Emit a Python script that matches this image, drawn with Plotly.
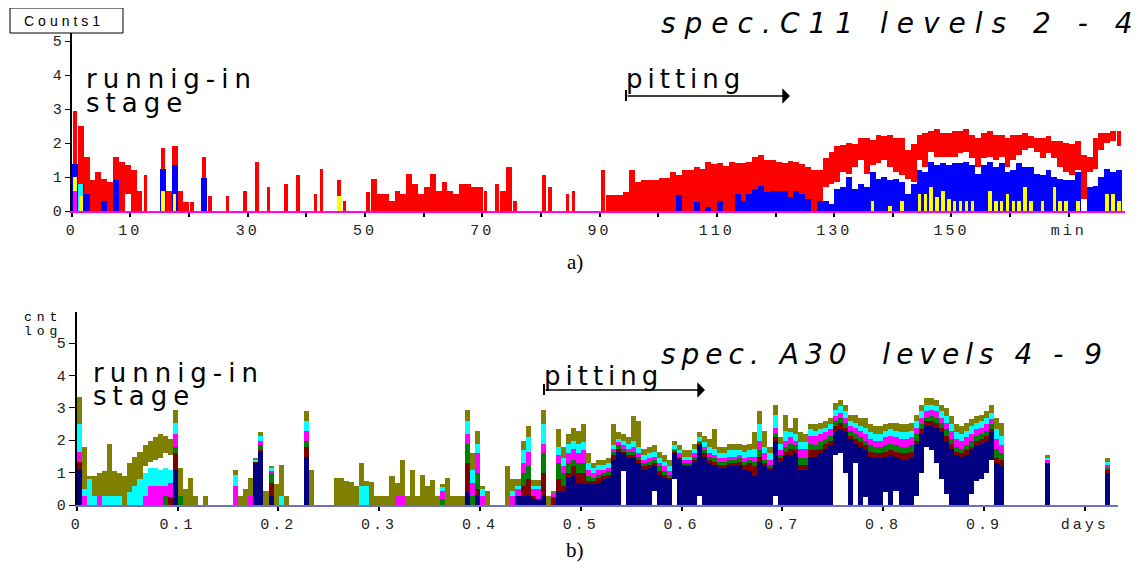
import plotly.graph_objects as go

W, H = 1146, 568
OFF = 8  # the page body adds an 8px margin; reference pixel positions are shifted by it

# ---------------- Panel a) : spec.C11, levels 2-4, 1-minute bins ----------------
red_top = [
    2.95, 2.5, 1.6, 0.9, 1.15, 0.95, 0.85, 1.6, 1.45, 1.35,
    1.2, 0.6, 1.05, 0, 0, 1.85, 0.6, 1.9, 0.6, 0.27,
    0.27, 0, 1.6, 0.45, 0, 0, 0.45, 0, 0, 0.6,
    0, 1.43, 0, 0.7, 0, 0, 0.8, 0, 1.05, 0,
    0, 0.5, 1.25, 0, 0, 0.9, 0.3, 0, 0, 0,
    0.55, 0.95, 0.5, 0.5, 0.3, 0.6, 0.5, 1.1, 0.8, 0.5,
    0.7, 1.1, 0.6, 0.85, 0.6, 0.5, 0.8, 0.8, 0.7, 0.7,
    0.6, 0, 0.8, 0.6, 1.28, 0.3, 0, 0, 0, 0,
    1.05, 0.7, 0, 0, 0.5, 0.6, 0, 0, 0, 0,
    1.22, 0.48, 0.48, 0.48, 0.55, 1.2, 0.85, 0.9, 0.9, 0.92,
    0.97, 0.97, 1.15, 1.05, 1.2, 1.2, 1.3, 1.25, 1.45, 1.38,
    1.4, 1.33, 1.45, 1.4, 1.42, 1.45, 1.6, 1.65, 1.5, 1.5,
    1.45, 1.42, 1.48, 1.45, 1.38, 1.3, 1.2, 1.22, 1.55, 1.73,
    1.9, 1.95, 2.0, 1.96, 2.15, 2.15, 2.1, 2.25, 2.2, 2.25,
    2.15, 2.15, 1.8, 1.96, 2.25, 2.3, 2.35, 2.4, 2.3, 2.3,
    2.35, 2.35, 2.4, 2.25, 2.15, 2.3, 2.35, 2.25, 2.25, 2.15,
    2.25, 2.25, 2.3, 2.2, 2.15, 2.15, 2.2, 2.05, 2.05, 2.0,
    1.96, 2.05, 1.65, 1.6, 2.15, 2.3, 2.3, 2.35, 2.35,
]
blue_top = [
    1.37, 0.8, 0.5, 0, 0, 0.3, 0, 0.9, 0, 0,
    0, 0, 0, 0, 0, 1.25, 0, 1.35, 0, 0,
    0, 0, 0.96, 0, 0, 0, 0, 0, 0, 0,
    0, 0, 0, 0, 0, 0, 0, 0, 0, 0,
    0, 0, 0, 0, 0, 0, 0, 0, 0, 0,
    0, 0, 0, 0, 0, 0, 0, 0, 0, 0,
    0, 0, 0, 0, 0, 0, 0, 0, 0, 0,
    0, 0, 0, 0, 0, 0, 0, 0, 0, 0,
    0, 0, 0, 0, 0, 0, 0, 0, 0, 0,
    0, 0, 0, 0, 0, 0, 0, 0, 0, 0,
    0, 0, 0, 0.48, 0, 0, 0.27, 0, 0.13, 0,
    0.3, 0, 0, 0.5, 0.3, 0.5, 0.65, 0.75, 0.55, 0.6,
    0.6, 0.6, 0.4, 0.6, 0.5, 0.35, 0, 0.3, 0.3, 0.2,
    0.65, 0.7, 1.0, 0.65, 0.8, 0.7, 1.15, 0.95, 1.0, 0.9,
    0.95, 0.85, 0.5, 0.8, 1.2, 1.15, 1.45, 1.35, 1.4, 1.35,
    1.4, 1.4, 1.45, 1.35, 1.1, 1.35, 1.45, 1.3, 1.4, 1.15,
    1.2, 1.4, 1.3, 1.3, 1.1, 1.05, 1.2, 1.0, 0.95, 0.9,
    0.9, 1.15, 0, 0.7, 0.75, 1.0, 1.25, 1.15, 1.2,
]
# lower edge of the red envelope (white gap below it), sparse
red_low_min = [9, 128, 129, 130, 131, 132, 133, 134, 135, 136, 137, 138, 139, 140,
               141, 142, 143, 144, 145, 146, 147, 148, 149, 150, 151, 152, 153, 154,
               155, 156, 157, 158, 159, 160, 161, 162, 163, 164, 165, 166, 167, 168,
               169, 170, 171, 172, 173, 174, 175, 176, 177, 178]
red_low_val = [0.5, 0.7, 0.8, 0.85, 1.15, 1.1, 1.3, 1.5, 1.1, 1.35, 1.4, 1.5, 1.3, 1.15,
               1.05, 0.95, 0.85, 1.5, 1.3, 1.75, 1.6, 1.6, 1.6, 1.6, 1.7, 1.75, 1.55, 1.3,
               1.55, 1.6, 1.5, 1.6, 1.3, 1.5, 1.65, 1.8, 1.85, 1.75, 1.55, 1.7, 1.55, 1.3,
               1.15, 1.05, 1.2, 0.35, 1.15, 1.25, 1.8, 2.0, 2.05, 1.9]
yellow_min = [0, 1, 15, 17, 45, 136, 139, 141, 144, 145, 146, 147, 148, 149, 150, 151,
              152, 153, 156, 157, 158, 159, 160, 161, 162, 163, 165, 167, 168, 169,
              171, 176, 177, 178]
yellow_val = [1.0, 0.45, 0.6, 0.5, 0.45, 0.3, 0.15, 0.3, 0.5, 0.5, 0.7, 0.4, 0.6, 0.35,
              0.3, 0.3, 0.3, 0.3, 0.6, 0.3, 0.3, 0.5, 0.3, 0.3, 0.7, 0.3, 0.3, 0.7,
              0.3, 0.3, 0.3, 0.5, 0.5, 0.3]
cyan_a_min = [1]
cyan_a_val = [0.8]
magenta_a_min = [0]
magenta_a_val = [0.6]

xa_tickvals = [0, 10, 20, 30, 40, 50, 60, 70, 80, 90, 100, 110, 120, 130, 140, 150, 160, 170]
xa_ticktext = ['0', '10', '', '30', '', '50', '', '70', '', '90', '', '110', '', '130', '',
               '150', '', 'min']

# ---------------- Panel b) : spec. A30, levels 4-9, 0.005-day bins ----------------
BIN_DAYS = 0.005
navy = [
    1.08, 0, 0, 0, 0, 0, 0, 0, 0, 0,
    0, 0, 0, 0, 0, 0, 0, 0, 0, 1.1,
    0, 0, 0, 0, 0, 0, 0, 0, 0, 0,
    0, 0, 0, 0, 0, 1.3, 1.65, 0, 0.3, 0,
    0, 0, 0, 0, 0, 1.5, 0, 0, 0, 0,
    0, 0, 0, 0, 0, 0, 0, 0, 0, 0,
    0, 0, 0, 0, 0, 0, 0, 0, 0, 0,
    0, 0, 0, 0, 0, 0, 0, 0.4, 0, 0.3,
    0, 0, 0, 0, 0, 0, 0, 0.3, 0.3, 0.3,
    0.2, 0.2, 0.3, 0, 0, 0.45, 0.4, 0.83, 0.9, 0.7,
    0.65, 0.65, 0.65, 0.7, 0.8, 0.85, 1.4, 1.65, 1.6, 1.45,
    1.45, 1.3, 1.1, 1.15, 1.2, 0.95, 0.85, 0.8, 1.6, 1.4,
    1.2, 1.2, 1.35, 1.85, 1.5, 1.3, 1.25, 1.15, 1.15, 1.2,
    1.2, 1.25, 1.1, 1.05, 0.9, 1.35, 1.2, 1.08, 2.0, 1.35,
    1.55, 1.55, 1.6, 1.1, 1.1, 1.5, 1.5, 1.6, 1.75, 1.85,
    2.3, 2.35, 2.25, 2.05, 1.9, 1.8, 1.7, 1.5, 1.45, 1.45,
    1.5, 1.55, 1.5, 1.4, 1.4, 1.45, 1.9, 2.2, 2.45, 2.45,
    2.4, 2.25, 2.0, 1.75, 1.55, 1.5, 1.55, 1.7, 1.85, 1.9,
    2.0, 2.25, 1.3, 1.2, 0, 0, 0, 0, 0, 0,
    0, 0, 1.3, 0, 0, 0, 0, 0, 0, 0,
    0, 0, 0, 0, 0.98, 0,
]
darkred = [
    1.33, 0, 0, 0, 0, 0, 0, 0, 0, 0,
    0, 0, 0, 0, 0, 0, 0, 0, 0.25, 1.6,
    0, 0, 0, 0, 0, 0, 0, 0, 0, 0,
    0, 0, 0, 0, 0, 1.35, 1.7, 0, 0.7, 0,
    0, 0, 0, 0, 0, 1.8, 0, 0, 0, 0,
    0, 0, 0, 0, 0, 0, 0, 0, 0, 0,
    0, 0, 0, 0, 0, 0, 0, 0, 0, 0,
    0, 0, 0, 0, 0, 0, 0, 1.3, 0, 0.5,
    0, 0, 0, 0, 0, 0, 0, 0.3, 0.6, 0.8,
    0.3, 0, 1.0, 0, 0.25, 0.8, 0.6, 1.0, 1.2, 1.0,
    1.0, 0.75, 0.75, 0.85, 0.9, 0.95, 1.55, 1.75, 1.65, 1.55,
    1.55, 1.4, 1.2, 1.25, 1.3, 1.05, 0.95, 0.85, 1.65, 1.45,
    1.25, 1.25, 1.4, 1.9, 1.6, 1.4, 1.35, 1.25, 1.25, 1.3,
    1.3, 1.35, 1.23, 1.3, 1.2, 1.5, 1.3, 1.15, 2.1, 1.45,
    1.65, 1.75, 1.7, 1.25, 1.25, 1.7, 1.7, 1.75, 1.9, 2.0,
    2.45, 2.55, 2.4, 2.15, 2.05, 1.95, 1.85, 1.65, 1.6, 1.6,
    1.65, 1.7, 1.65, 1.6, 1.6, 1.65, 2.0, 2.35, 2.6, 2.6,
    2.55, 2.4, 2.15, 1.9, 1.65, 1.6, 1.7, 1.8, 2.0, 2.05,
    2.15, 2.35, 1.45, 1.4, 0, 0, 0, 0, 0, 0,
    0, 0, 1.3, 0, 0, 0, 0, 0, 0, 0,
    0, 0, 0, 0, 1.1, 0,
]
green = [
    1.33, 0, 0, 0, 0, 0, 0, 0, 0, 0,
    0, 0, 0, 0, 0, 0, 0, 0.3, 0.25, 1.8,
    0.3, 0, 0, 0, 0, 0, 0, 0, 0, 0,
    0, 0, 0, 0, 0, 1.35, 1.85, 0, 1.0, 0,
    0, 0, 0, 0, 0, 2.0, 0, 0, 0, 0,
    0, 0, 0, 0, 0, 0, 0, 0, 0, 0,
    0, 0, 0, 0, 0, 0, 0, 0, 0, 0,
    0, 0, 0.2, 0, 0, 0, 0, 1.9, 0.3, 1.0,
    0, 0, 0, 0, 0, 0, 0, 0.3, 1.0, 1.2,
    0.3, 0, 1.6, 0, 0.25, 1.3, 1.0, 1.3, 1.4, 1.3,
    1.3, 0.9, 0.85, 0.95, 1.0, 1.05, 1.65, 1.85, 1.75, 1.65,
    1.65, 1.5, 1.3, 1.35, 1.4, 1.2, 1.05, 0.95, 1.7, 1.5,
    1.3, 1.3, 1.5, 1.95, 1.7, 1.5, 1.45, 1.35, 1.35, 1.4,
    1.4, 1.45, 1.35, 1.4, 1.35, 1.7, 1.4, 1.25, 2.2, 1.55,
    1.8, 1.9, 1.85, 1.45, 1.45, 1.9, 1.85, 1.95, 2.05, 2.15,
    2.6, 2.7, 2.55, 2.3, 2.2, 2.1, 2.0, 1.85, 1.8, 1.8,
    1.85, 1.9, 1.85, 1.8, 1.8, 1.85, 2.2, 2.5, 2.7, 2.75,
    2.7, 2.55, 2.35, 2.05, 1.8, 1.75, 1.85, 2.0, 2.15, 2.2,
    2.3, 2.5, 1.75, 1.6, 0, 0, 0, 0, 0, 0,
    0, 0, 1.3, 0, 0, 0, 0, 0, 0, 0,
    0, 0, 0, 0, 1.15, 0,
]
magenta = [
    1.65, 0.3, 0, 0, 0.3, 0, 0, 0, 0, 0,
    0, 0, 0, 0.3, 0.6, 0.6, 0.6, 0.6, 0.7, 2.2,
    0.3, 0, 0, 0, 0, 0, 0, 0, 0, 0,
    0, 0.6, 0, 0, 0.3, 1.35, 2.0, 0, 1.05, 0,
    0, 0, 0, 0, 0, 2.3, 0, 0, 0, 0,
    0, 0, 0, 0, 0, 0, 0, 0, 0, 0,
    0, 0, 0, 0.3, 0.3, 0, 0, 0, 0, 0,
    0, 0, 0.45, 0, 0, 0, 0, 2.2, 0.7, 1.6,
    0.3, 0, 0, 0, 0, 0, 0.3, 0.5, 1.3, 1.65,
    0.5, 0.5, 1.9, 0, 0.35, 1.55, 1.2, 1.6, 1.75, 1.6,
    1.7, 1.1, 1.0, 1.1, 1.1, 1.15, 1.75, 1.95, 1.85, 1.75,
    1.8, 1.6, 1.4, 1.45, 1.5, 1.3, 1.2, 1.05, 1.75, 1.6,
    1.4, 1.4, 1.6, 2.0, 1.8, 1.6, 1.55, 1.45, 1.45, 1.5,
    1.5, 1.55, 1.45, 1.5, 1.5, 2.0, 1.6, 1.4, 2.4, 1.7,
    2.0, 2.1, 2.0, 1.75, 1.75, 2.15, 2.15, 2.2, 2.25, 2.35,
    2.75, 2.85, 2.7, 2.45, 2.4, 2.3, 2.2, 2.05, 2.0, 2.0,
    2.1, 2.15, 2.1, 2.05, 2.05, 2.1, 2.4, 2.7, 2.9, 2.95,
    2.9, 2.7, 2.55, 2.3, 2.05, 2.0, 2.1, 2.2, 2.35, 2.4,
    2.5, 2.65, 2.05, 1.85, 0, 0, 0, 0, 0, 0,
    0, 0, 1.4, 0, 0, 0, 0, 0, 0, 0,
    0, 0, 0, 0, 1.25, 0,
]
cyan = [
    2.5, 0.5, 0.8, 0.3, 0.3, 0.3, 0.3, 0.3, 0.3, 0,
    0.4, 0.6, 0.8, 1.0, 1.15, 1.15, 1.1, 1.15, 1.1, 2.55,
    0.3, 0, 0, 0, 0, 0, 0, 0, 0, 0,
    0, 0.95, 0, 0, 0, 1.4, 2.15, 0, 1.15, 0,
    0.3, 0, 0, 0, 0, 2.6, 0, 0, 0, 0,
    0, 0, 0, 0, 0, 0, 0.6, 0.6, 0, 0,
    0, 0, 0, 0, 0, 0, 0, 0, 0, 0,
    0, 0, 0.55, 0, 0, 0, 0, 2.6, 1.1, 1.9,
    0.5, 0, 0, 0, 0, 0, 0.45, 0.6, 1.7, 2.1,
    0.6, 0.6, 2.5, 0, 0, 1.8, 1.45, 1.9, 2.0, 1.9,
    1.95, 1.3, 1.15, 1.25, 1.25, 1.3, 1.85, 2.05, 2.0, 1.9,
    2.0, 1.8, 1.55, 1.6, 1.65, 1.45, 1.35, 1.2, 1.85, 1.7,
    1.5, 1.5, 1.75, 2.1, 1.95, 1.8, 1.75, 1.6, 1.6, 1.7,
    1.7, 1.7, 1.65, 1.7, 1.75, 2.5, 1.8, 1.6, 2.8, 1.9,
    2.3, 2.25, 2.2, 1.95, 1.95, 2.35, 2.3, 2.35, 2.4, 2.5,
    2.95, 3.05, 2.9, 2.6, 2.55, 2.45, 2.4, 2.25, 2.2, 2.2,
    2.3, 2.35, 2.3, 2.25, 2.25, 2.3, 2.6, 2.9, 3.1, 3.1,
    3.05, 2.9, 2.75, 2.5, 2.25, 2.2, 2.3, 2.45, 2.55, 2.6,
    2.7, 2.85, 2.35, 2.15, 0, 0, 0, 0, 0, 0,
    0, 0, 1.45, 0, 0, 0, 0, 0, 0, 0,
    0, 0, 0, 0, 1.35, 0,
]
olive = [
    3.34, 1.8, 0.9, 0.9, 1.0, 1.05, 1.9, 1.05, 1.0, 0.9,
    1.3, 1.5, 1.65, 1.85, 2.0, 2.1, 2.2, 2.15, 2.05, 2.95,
    1.15, 0.5, 0.85, 0.3, 0, 0.3, 0, 0, 0, 0,
    0, 1.08, 0.3, 0.5, 0.85, 1.45, 2.27, 0.45, 1.2, 0.65,
    1.25, 0.3, 0, 0, 0, 2.9, 1.1, 0, 0, 0,
    0, 0.83, 0.83, 0.75, 0.72, 0.6, 1.3, 0.75, 0.72, 0.3,
    0.3, 0.3, 0.9, 0.7, 1.4, 0.3, 1.08, 0.3, 0.93, 0.6,
    0.77, 0.3, 0.65, 0.85, 0.3, 0.3, 0.3, 2.95, 1.6, 2.3,
    0.6, 0.45, 0, 0, 0, 1.2, 0.8, 0.8, 2.0, 2.45,
    0.77, 0.77, 2.95, 0.3, 0.45, 2.35, 1.8, 2.2, 2.4, 2.3,
    2.5, 1.6, 1.3, 1.4, 1.4, 1.45, 2.5, 2.25, 2.2, 2.1,
    2.75, 2.6, 1.75, 1.8, 1.85, 1.65, 1.55, 1.4, 2.0, 1.85,
    1.7, 1.7, 1.9, 2.25, 2.15, 2.05, 2.35, 1.8, 1.8, 1.9,
    1.9, 1.9, 1.85, 1.9, 2.25, 2.9, 2.3, 1.8, 3.1, 2.1,
    2.8, 2.4, 2.7, 2.25, 2.2, 2.5, 2.5, 2.55, 2.6, 2.7,
    3.15, 3.25, 3.1, 2.8, 2.8, 2.7, 2.7, 2.5, 2.45, 2.45,
    2.5, 2.55, 2.55, 2.5, 2.5, 2.55, 2.8, 3.1, 3.3, 3.3,
    3.25, 3.1, 3.0, 2.75, 2.5, 2.45, 2.55, 2.65, 2.75, 2.8,
    2.9, 3.1, 2.7, 2.55, 0, 0, 0, 0, 0, 0,
    0, 0, 1.55, 0, 0, 0, 0, 0, 0, 0,
    0, 0, 0, 0, 1.47, 0,
]
# white gaps: lower edge of the whole column / of the olive band (sparse)
navy_low_bin = [108, 114, 118, 123, 138, 150, 151, 152, 154, 156, 160, 162, 166, 167, 168,
                169, 170, 171, 172, 177, 178, 179, 180, 181]
navy_low_val = [1.05, 0.45, 0.8, 0.3, 0.3, 1.55, 1.6, 1.0, 1.3, 0.27, 0.4, 0.45, 0.3, 1.0,
                1.8, 1.7, 1.3, 0.8, 0.35, 0.35, 0.75, 0.8, 1.0, 1.4]
olive_low_bin = [13, 14, 15, 16, 17, 18]
olive_low_val = [1.2, 1.35, 1.4, 1.45, 1.6, 1.55]

xb_tickvals = [0, 0.1, 0.2, 0.3, 0.4, 0.5, 0.6, 0.7, 0.8, 0.9, 1.0]
xb_ticktext = ['0', '0.1', '0.2', '0.3', '0.4', '0.5', '0.6', '0.7', '0.8', '0.9', 'days']
y_ticks = [0, 1, 2, 3, 4, 5]

na = len(red_top)
nb = len(navy)
assert len(blue_top) == na, len(blue_top)
for arr in (darkred, green, magenta, cyan, olive):
    assert len(arr) == nb, len(arr)

# ---------------- build traces ----------------
def sparse_full(idx, val, n):
    out = [0.0] * n
    for i, v in zip(idx, val):
        out[i] = v
    return out

fig = go.Figure()

def add_bar(x, top, base, color, width, xaxis, yaxis):
    h = [max(t - b, 0) for t, b in zip(top, base)]
    fig.add_trace(go.Bar(x=x, y=h, base=base, width=width,
                         marker=dict(color=color, line=dict(width=0)),
                         xaxis=xaxis, yaxis=yaxis, showlegend=False,
                         hoverinfo='skip'))

xa = [m + 0.5 for m in range(na)]
red_low = sparse_full(red_low_min, red_low_val, na)
# isolated spikes are drawn thinner, runs of neighbouring bins fill the whole bin
red_w = []
for i in range(na):
    left = red_top[i - 1] if i > 0 else 0
    right = red_top[i + 1] if i < na - 1 else 0
    red_w.append(1.0 if (left > 0 and right > 0) else 0.6)
zero_a = [0.0] * na
add_bar(xa, red_top, red_low, '#ff0000', red_w, 'x', 'y')
add_bar(xa, blue_top, zero_a, '#0000ff', 1.0, 'x', 'y')
add_bar([m + 0.5 for m in cyan_a_min], cyan_a_val, [0] * len(cyan_a_min), '#00ffff', 0.8, 'x', 'y')
add_bar([m + 0.5 for m in yellow_min], yellow_val, [0] * len(yellow_min), '#ffff00', 0.6, 'x', 'y')
add_bar([m + 0.5 for m in magenta_a_min], magenta_a_val, [0] * len(magenta_a_min), '#ff00ff', 0.8, 'x', 'y')

xb = [(k + 0.5) * BIN_DAYS for k in range(nb)]
navy_low = sparse_full(navy_low_bin, navy_low_val, nb)
olive_low = sparse_full(olive_low_bin, olive_low_val, nb)
olive_base = [max(a, b) for a, b in zip(navy_low, olive_low)]
add_bar(xb, olive, olive_base, '#808000', BIN_DAYS, 'x2', 'y2')
add_bar(xb, cyan, navy_low, '#00ffff', BIN_DAYS, 'x2', 'y2')
add_bar(xb, magenta, navy_low, '#ff00ff', BIN_DAYS, 'x2', 'y2')
add_bar(xb, green, navy_low, '#008000', BIN_DAYS, 'x2', 'y2')
add_bar(xb, darkred, navy_low, '#800000', BIN_DAYS, 'x2', 'y2')
add_bar(xb, navy, navy_low, '#000080', BIN_DAYS, 'x2', 'y2')

# ---------------- layout ----------------
def px(x):
    return (x - OFF) / W

def py(y):
    return 1 - (y - OFF) / H

tick_font = dict(family='Liberation Mono', size=15, color='#222222')

def spaced(t, sp):
    return '<span style="letter-spacing:%dpx">%s</span>' % (sp, t)

common = dict(showgrid=False, zeroline=False, showline=True, automargin=False,
              fixedrange=True, tickmode='array', tickfont=tick_font)

fig.update_layout(
    width=W, height=H,
    margin=dict(l=0, r=0, t=0, b=0, autoexpand=False),
    paper_bgcolor='white', plot_bgcolor='white',
    barmode='overlay', bargap=0,
    showlegend=False,
    xaxis=dict(domain=[px(71.7), px(1125)], range=[0, (1125 - 71.7) / 5.865],
               anchor='y', linecolor='#ff00ff', linewidth=2,
               tickvals=xa_tickvals, ticktext=[spaced(t, 3) for t in xa_ticktext],
               ticks='outside', ticklen=4, tickcolor='#000000', tickwidth=2, **common),
    yaxis=dict(domain=[py(211), py(33)], range=[0, (211 - 33) / 34.0],
               anchor='x', linecolor='#000000', linewidth=2,
               tickvals=y_ticks, ticktext=[str(v) for v in y_ticks],
               ticks='outside', ticklen=5, tickcolor='#000000', tickwidth=1, **common),
    xaxis2=dict(domain=[px(76.7), px(1117.7)], range=[0, (1117.7 - 76.7) / 1008.0],
                anchor='y2', linecolor='#6f6fc0', linewidth=2,
                tickvals=xb_tickvals, ticktext=[spaced(t, 3) for t in xb_ticktext],
                ticks='outside', ticklen=4, tickcolor='#000000', tickwidth=2, **common),
    yaxis2=dict(domain=[py(505), py(311.7)], range=[0, (505 - 311.7) / 32.4],
                anchor='x2', linecolor='#000000', linewidth=2,
                tickvals=y_ticks, ticktext=[str(v) for v in y_ticks],
                ticks='outside', ticklen=6, tickcolor='#000000', tickwidth=1, **common),
)

shapes = [
    # "Counts1" box
    dict(type='rect', xref='paper', yref='paper', x0=px(10), x1=px(123), y0=py(33), y1=py(8),
         line=dict(color='#000000', width=1), fillcolor='white', layer='above'),
    # start marks of the "pitting" arrows
    dict(type='line', xref='paper', yref='paper', x0=px(626), x1=px(626), y0=py(101), y1=py(90),
         line=dict(color='#000000', width=2)),
    dict(type='line', xref='paper', yref='paper', x0=px(544), x1=px(544), y0=py(395), y1=py(384),
         line=dict(color='#000000', width=2)),
]
fig.update_layout(shapes=shapes)

sans = 'DejaVu Sans'
ann = []

def text(x, y, t, size, family=sans, xanchor='left', yanchor='middle', color='#000000'):
    ann.append(dict(x=px(x), y=py(y), xref='paper', yref='paper', text=t, showarrow=False,
                    xanchor=xanchor, yanchor=yanchor, borderpad=0,
                    font=dict(family=family, size=size, color=color)))

text(23, 20.5, spaced('Counts1', 4), 14, family='Liberation Sans')
text(660, 23, '<i>' + spaced('spec.C11 levels 2 - 4', 9) + '</i>', 28)
text(85, 79, spaced('runnig-in', 6), 26)
text(85, 103, spaced('stage', 6), 26)
text(625, 79, spaced('pitting', 5), 26)
text(575, 262, 'a)', 21, family='Liberation Serif', xanchor='center')

text(23, 317, spaced('cnt', 5), 13, family='Liberation Mono')
text(23, 331, spaced('log', 5), 13, family='Liberation Mono')
text(660, 354, '<i>' + spaced('spec. A30 &nbsp;levels 4 - 9', 6) + '</i>', 28)
text(92, 373, spaced('runnig-in', 6), 26)
text(92, 396, spaced('stage', 6), 26)
text(543, 376, spaced('pitting', 5), 26)
text(575, 550, 'b)', 21, family='Liberation Serif', xanchor='center')

# arrows
ann.append(dict(x=px(790), y=py(96), xref='paper', yref='paper', ax=-(790 - 626), ay=0,
                text='', showarrow=True, arrowhead=1, arrowsize=1.6, arrowwidth=1.6,
                arrowcolor='#000000'))
ann.append(dict(x=px(705), y=py(390), xref='paper', yref='paper', ax=-(705 - 544), ay=0,
                text='', showarrow=True, arrowhead=1, arrowsize=1.6, arrowwidth=1.6,
                arrowcolor='#000000'))
fig.update_layout(annotations=ann)

fig.write_html('out.html')
